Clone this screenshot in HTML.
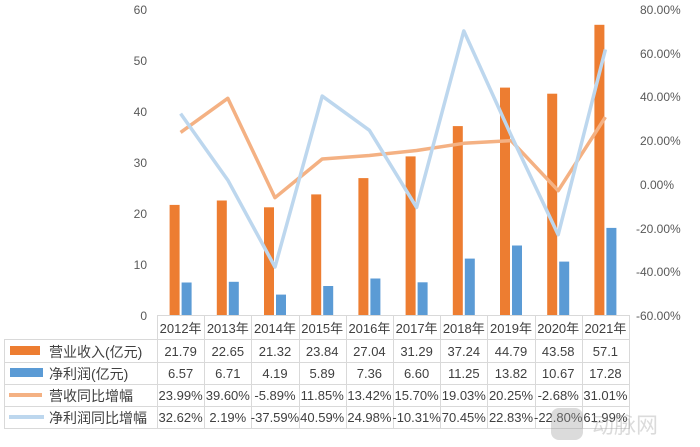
<!DOCTYPE html>
<html><head><meta charset="utf-8"><style>
body{margin:0;background:#fff;}
svg{display:block;font-family:"Liberation Sans","Noto Sans CJK SC",sans-serif;}
</style></head><body>
<svg width="700" height="447" viewBox="0 0 700 447" xmlns="http://www.w3.org/2000/svg">
<g font-size="12" fill="#595959" text-anchor="end">
<text x="147" y="14">60</text><text x="147" y="65">50</text><text x="147" y="116">40</text>
<text x="147" y="167">30</text><text x="147" y="218">20</text><text x="147" y="269">10</text><text x="147" y="320">0</text>
</g>
<g font-size="12" fill="#595959">
<text x="640" y="14">80.00%</text><text x="640" y="58">60.00%</text><text x="640" y="101">40.00%</text>
<text x="640" y="145">20.00%</text><text x="640" y="189">0.00%</text><text x="636" y="233">-20.00%</text>
<text x="636" y="276">-40.00%</text><text x="636" y="320">-60.00%</text>
</g>
<g fill="#ed7d31">
<rect x="169.6" y="204.9" width="10" height="111.1"/><rect x="216.8" y="200.5" width="10" height="115.5"/>
<rect x="264" y="207.3" width="10" height="108.7"/><rect x="311.2" y="194.4" width="10" height="121.6"/>
<rect x="358.4" y="178.1" width="10" height="137.9"/><rect x="405.6" y="156.4" width="10" height="159.6"/>
<rect x="452.8" y="126.1" width="10" height="189.9"/><rect x="500" y="87.6" width="10" height="228.4"/>
<rect x="547.2" y="93.7" width="10" height="222.3"/><rect x="594.4" y="24.8" width="10" height="291.2"/>
</g>
<g fill="#5b9bd5">
<rect x="181.6" y="282.5" width="10" height="33.5"/><rect x="228.8" y="281.8" width="10" height="34.2"/>
<rect x="276" y="294.6" width="10" height="21.4"/><rect x="323.2" y="286" width="10" height="30"/>
<rect x="370.4" y="278.5" width="10" height="37.5"/><rect x="417.6" y="282.3" width="10" height="33.7"/>
<rect x="464.8" y="258.6" width="10" height="57.4"/><rect x="512" y="245.5" width="10" height="70.5"/>
<rect x="559.2" y="261.6" width="10" height="54.4"/><rect x="606.4" y="227.9" width="10" height="88.1"/>
</g>
<polyline fill="none" stroke="#f4b183" stroke-width="3.5" stroke-linejoin="round" points="180.6,132.4 227.8,98.3 275,197.7 322.2,159 369.4,155.5 416.6,150.5 463.8,143.3 511,140.6 558.2,190.7 605.4,117.1"/>
<polyline fill="none" stroke="#bdd7ee" stroke-width="3.5" stroke-linejoin="round" points="180.6,113.6 227.8,180.1 275,267 322.2,96.1 369.4,130.3 416.6,207.4 463.8,30.9 511,135 558.2,234.7 605.4,49.4"/>
<g stroke="#d9d9d9" stroke-width="1" fill="none">
<line x1="157" y1="315.5" x2="629" y2="315.5"/>
<line x1="4" y1="339.5" x2="629" y2="339.5"/>
<line x1="4" y1="362.5" x2="629" y2="362.5"/>
<line x1="4" y1="384.5" x2="629" y2="384.5"/>
<line x1="4" y1="406.5" x2="629" y2="406.5"/>
<line x1="4" y1="428.5" x2="629" y2="428.5"/>
<line x1="4.5" y1="339" x2="4.5" y2="429"/>
<line x1="157.5" y1="315" x2="157.5" y2="429"/><line x1="204.5" y1="315" x2="204.5" y2="429"/>
<line x1="251.5" y1="315" x2="251.5" y2="429"/><line x1="299.5" y1="315" x2="299.5" y2="429"/>
<line x1="346.5" y1="315" x2="346.5" y2="429"/><line x1="393.5" y1="315" x2="393.5" y2="429"/>
<line x1="440.5" y1="315" x2="440.5" y2="429"/><line x1="487.5" y1="315" x2="487.5" y2="429"/>
<line x1="535.5" y1="315" x2="535.5" y2="429"/><line x1="582.5" y1="315" x2="582.5" y2="429"/>
<line x1="629.5" y1="315" x2="629.5" y2="429"/>
</g>
<rect x="10" y="346" width="30" height="9" fill="#ed7d31"/>
<rect x="10" y="368" width="33" height="9" fill="#5b9bd5"/>
<line x1="9" y1="395" x2="42" y2="395" stroke="#f4b183" stroke-width="4"/>
<line x1="9" y1="417" x2="44" y2="417" stroke="#bdd7ee" stroke-width="4"/>
<g font-size="14" fill="#404040">
<text x="49" y="357">营业收入(亿元)</text>
<text x="49" y="379">净利润(亿元)</text>
<text x="49" y="401">营收同比增幅</text>
<text x="49" y="423">净利润同比增幅</text>
</g>
<g font-size="13" fill="#404040" text-anchor="middle">
<text x="180.6" y="333">2012年</text><text x="227.8" y="333">2013年</text><text x="275" y="333">2014年</text>
<text x="322.2" y="333">2015年</text><text x="369.4" y="333">2016年</text><text x="416.6" y="333">2017年</text>
<text x="463.8" y="333">2018年</text><text x="511" y="333">2019年</text><text x="558.2" y="333">2020年</text><text x="605.4" y="333">2021年</text>
<text x="180.6" y="356">21.79</text><text x="227.8" y="356">22.65</text><text x="275" y="356">21.32</text>
<text x="322.2" y="356">23.84</text><text x="369.4" y="356">27.04</text><text x="416.6" y="356">31.29</text>
<text x="463.8" y="356">37.24</text><text x="511" y="356">44.79</text><text x="558.2" y="356">43.58</text><text x="605.4" y="356">57.1</text>
<text x="180.6" y="378">6.57</text><text x="227.8" y="378">6.71</text><text x="275" y="378">4.19</text>
<text x="322.2" y="378">5.89</text><text x="369.4" y="378">7.36</text><text x="416.6" y="378">6.60</text>
<text x="463.8" y="378">11.25</text><text x="511" y="378">13.82</text><text x="558.2" y="378">10.67</text><text x="605.4" y="378">17.28</text>
<text x="180.6" y="400">23.99%</text><text x="227.8" y="400">39.60%</text><text x="275" y="400">-5.89%</text>
<text x="322.2" y="400">11.85%</text><text x="369.4" y="400">13.42%</text><text x="416.6" y="400">15.70%</text>
<text x="463.8" y="400">19.03%</text><text x="511" y="400">20.25%</text><text x="558.2" y="400">-2.68%</text><text x="605.4" y="400">31.01%</text>
<text x="180.6" y="422">32.62%</text><text x="227.8" y="422">2.19%</text><text x="275" y="422">-37.59%</text>
<text x="322.2" y="422">40.59%</text><text x="369.4" y="422">24.98%</text><text x="416.6" y="422">-10.31%</text>
<text x="463.8" y="422">70.45%</text><text x="511" y="422">22.83%</text><text x="558.2" y="422">-22.80%</text><text x="605.4" y="422">61.99%</text>
</g>
<g opacity="0.35">
<rect x="551" y="408" width="32" height="32" rx="8" fill="#999"/>
<text x="592" y="433" font-size="22" fill="#999">动脉网</text>
</g>
</svg>
</body></html>
